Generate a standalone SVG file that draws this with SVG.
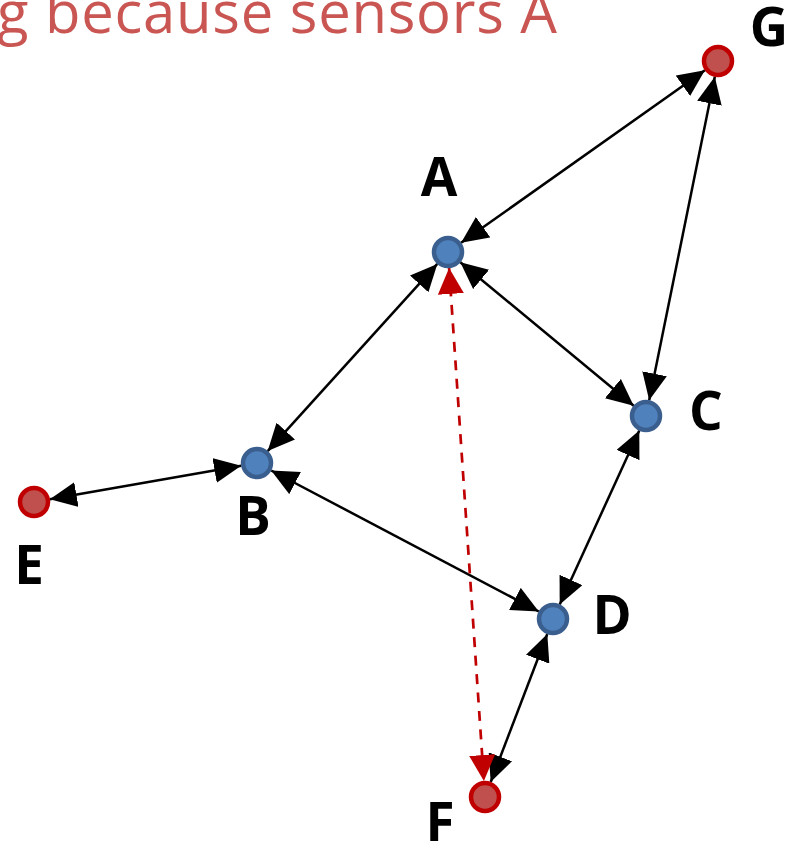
<svg xmlns="http://www.w3.org/2000/svg" width="798" height="842" viewBox="0 0 798 842">
  <style>
    .edge { stroke: #000; stroke-width: 2.5; fill: none; }
    .alt { stroke: #C00000; stroke-width: 2.7; fill: none; stroke-dasharray: 10 8.5; }
    .sensor circle { fill: #4F81BD; stroke: #3A5F8E; stroke-width: 4.5; }
    .ext circle { fill: #C0504D; stroke: #C00000; stroke-width: 4.5; }
    .lbl { font-family: "Open Sans", "Noto Sans", sans-serif; font-weight: 700; font-size: 53px; fill: #000; text-anchor: middle; }
    .caption { font-family: "Open Sans", "Noto Sans", sans-serif; font-size: 58px; fill: #C95652; }
  </style>
  <defs>
    <marker id="arr" viewBox="0 0 27 25" refX="27" refY="12.5" markerWidth="27" markerHeight="25" markerUnits="userSpaceOnUse" orient="auto-start-reverse">
      <path d="M0,0 L27,12.5 L0,25 z" fill="#000"/>
    </marker>
    <marker id="arrRed" viewBox="0 0 26 26" refX="26" refY="13" markerWidth="26" markerHeight="26" markerUnits="userSpaceOnUse" orient="auto-start-reverse">
      <path d="M0,0 L26,13 L0,26 z" fill="#C00000"/>
    </marker>
  </defs>

  <!-- caption, partly out of view -->
  <text class="caption" x="-3" y="33" textLength="560" lengthAdjust="spacing">g because sensors A</text>

  <!-- links between nodes -->
  <g id="connectors">
    <line class="edge" x1="461.1" y1="242.8" x2="704.9" y2="70.2" marker-start="url(#arr)" marker-end="url(#arr)"/>
    <line class="edge" x1="714.8" y1="76.7" x2="649.2" y2="400.3" marker-start="url(#arr)" marker-end="url(#arr)"/>
    <line class="edge" x1="460.3" y1="262.2" x2="633.7" y2="405.8" marker-start="url(#arr)" marker-end="url(#arr)"/>
    <line class="edge" x1="437.3" y1="263.9" x2="267.7" y2="451.1" marker-start="url(#arr)" marker-end="url(#arr)"/>
    <line class="edge" x1="241.2" y1="465.8" x2="49.8" y2="499.2" marker-start="url(#arr)" marker-end="url(#arr)"/>
    <line class="edge" x1="271.2" y1="470.5" x2="538.8" y2="611.5" marker-start="url(#arr)" marker-end="url(#arr)"/>
    <line class="edge" x1="639.3" y1="430.5" x2="559.7" y2="604.5" marker-start="url(#arr)" marker-end="url(#arr)"/>
    <line class="edge" x1="547.3" y1="634.0" x2="490.7" y2="782.0" marker-start="url(#arr)" marker-end="url(#arr)"/>
    <line class="alt" x1="449.1" y1="268.0" x2="483.9" y2="781.0" marker-start="url(#arrRed)" marker-end="url(#arrRed)"/>
  </g>

  <!-- nodes -->
  <g id="node-A" class="sensor"><circle cx="448" cy="252" r="14"/><text class="lbl" x="439" y="196">A</text></g>
  <g id="node-B" class="sensor"><circle cx="257" cy="463" r="14"/><text class="lbl" x="253" y="535">B</text></g>
  <g id="node-C" class="sensor"><circle cx="646" cy="416" r="14"/><text class="lbl" x="706" y="430">C</text></g>
  <g id="node-D" class="sensor"><circle cx="553" cy="619" r="14"/><text class="lbl" x="612" y="634">D</text></g>
  <g id="node-E" class="ext"><circle cx="34" cy="502" r="14"/><text class="lbl" x="29" y="584">E</text></g>
  <g id="node-F" class="ext"><circle cx="485" cy="797" r="14"/><text class="lbl" x="440" y="841">F</text></g>
  <g id="node-G" class="ext"><circle cx="718" cy="61" r="14"/><text class="lbl" x="769" y="46">G</text></g>
</svg>
